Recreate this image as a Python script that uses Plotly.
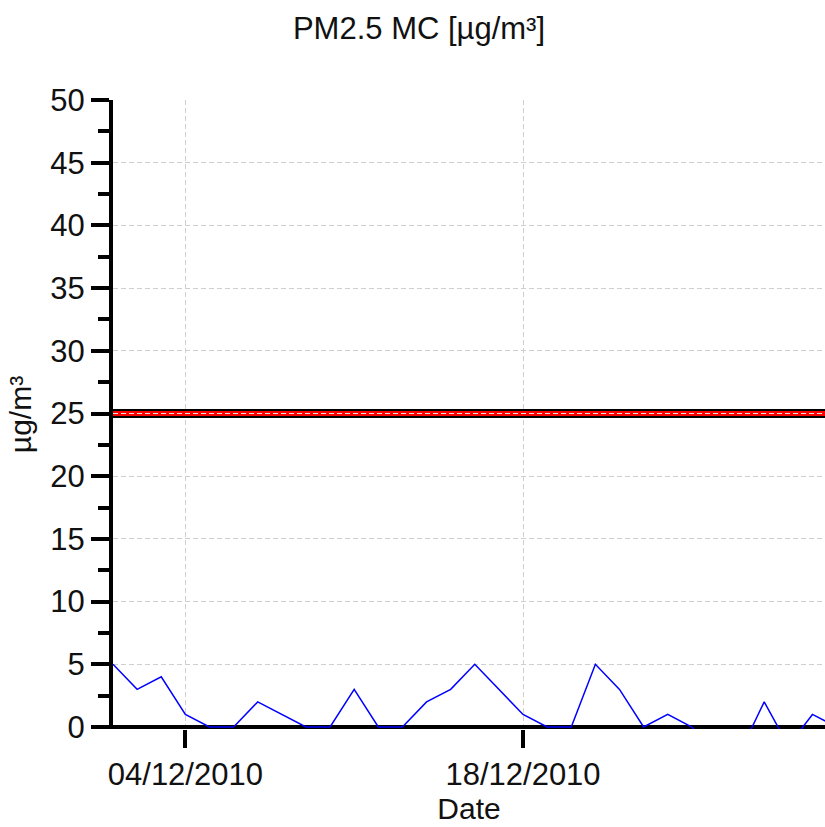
import plotly.graph_objects as go
import pandas as pd

# ---- data ----
dates = pd.date_range("2010-12-01", "2010-12-31", freq="D")
pm25 = [5, 3, 4, 1, 0, 0, 2, 1, 0, 0, 3, 0, 0, 2, 3, 5, 3, 1, 0, 0,
        5, 3, 0, 1, 0, -2, -2, 2, -1.5, 1, 0]
limit_value = 25
y_range = [-0.16, 50]
x_range = [pd.Timestamp("2010-12-01"), pd.Timestamp("2010-12-01") + pd.Timedelta(days=29.52)]
title_text = "PM2.5 MC [µg/m³]"
y_title = "µg/m³"
x_title = "Date"

FONT = "Liberation Sans, Arial, sans-serif"
TXT = "#111111"
GRID = "#cfcfcf"

fig = go.Figure()
fig.add_trace(go.Scatter(
    x=dates, y=pm25, mode="lines",
    line=dict(color="#0000ff", width=1.5),
    showlegend=False, hoverinfo="x+y",
))

# limit line (black outline, red core, grid dash on top)
fig.add_shape(type="line", xref="x domain", x0=0, x1=1, yref="y",
              y0=limit_value, y1=limit_value, line=dict(color="black", width=9))
fig.add_shape(type="line", xref="x domain", x0=0, x1=1, yref="y",
              y0=limit_value, y1=limit_value, line=dict(color="#ff0000", width=5))
fig.add_shape(type="line", xref="x domain", x0=0, x1=1, yref="y",
              y0=limit_value, y1=limit_value,
              line=dict(color="#e6e6e6", width=1, dash="5px,3px"))

fig.update_layout(
    width=825, height=827,
    margin=dict(l=113, r=0, t=100, b=98),
    paper_bgcolor="white", plot_bgcolor="white",
    font=dict(family=FONT, size=31, color=TXT),
    title=dict(text=title_text, x=419 / 825, xanchor="center", xref="container",
               y=1 - 28 / 827, yanchor="middle", yref="container",
               font=dict(family=FONT, size=31, color=TXT)),
)

fig.update_xaxes(
    type="date", range=x_range,
    tick0="2010-12-04", dtick=14 * 86400000, tickformat="%d/%m/%Y",
    ticks="outside", ticklen=18, tickwidth=4, tickcolor="black",
    showline=False, showgrid=True, gridcolor=GRID, gridwidth=1, griddash="5px,3px",
    zeroline=False,
    title=dict(text=x_title, standoff=3, font=dict(size=30)),
    tickfont=dict(size=31),
)
fig.update_yaxes(
    range=y_range, tick0=0, dtick=5,
    ticks="outside", ticklen=18, tickwidth=4, tickcolor="black",
    minor=dict(dtick=2.5, ticks="outside", ticklen=11, tickwidth=4, tickcolor="black", showgrid=False),
    showline=True, linewidth=4, linecolor="black",
    showgrid=True, gridcolor=GRID, gridwidth=1, griddash="5px,3px",
    zeroline=True, zerolinecolor="black", zerolinewidth=4,
    title=dict(text=y_title, standoff=11, font=dict(size=30)),
    tickfont=dict(size=31),
)

fig.write_html("out.html", config={"displayModeBar": False},
               post_script="document.body.style.margin='0';document.body.style.overflow='hidden';")
